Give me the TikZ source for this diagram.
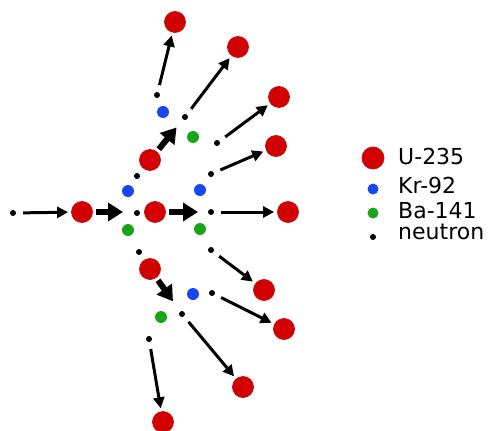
\documentclass[tikz,border=0pt]{standalone}
\usepackage{fontspec}
\setmainfont{DejaVu Sans}
\usetikzlibrary{arrows.meta}
\definecolor{ured}{RGB}{210,0,0}
\definecolor{uredline}{RGB}{190,20,20}
\definecolor{krblue}{RGB}{25,70,245}
\definecolor{bagreen}{RGB}{25,165,25}
\tikzset{
  uranium/.style={circle,fill=ured,draw=uredline,line width=0.8pt,minimum size=21pt,inner sep=0pt},
  krypton/.style={circle,fill=krblue,minimum size=12pt,inner sep=0pt},
  barium/.style={circle,fill=bagreen,minimum size=12pt,inner sep=0pt},
  neutron/.style={circle,fill=black,minimum size=6pt,inner sep=0pt},
  flight/.style={line width=3pt,-{Triangle[length=11pt,width=11pt]},shorten <=7pt,shorten >=3pt},
  hit/.style={line width=6pt,-{Triangle[length=15pt,width=18pt]},shorten <=3pt,shorten >=7pt},
  legendtext/.style={anchor=base west,inner sep=0pt,font=\fontsize{22pt}{26pt}\selectfont}
}
\begin{document}
\begin{tikzpicture}[x=1pt,y=-1pt]
\useasboundingbox (0,0) rectangle (490,431);

% incoming neutron and first nucleus
\node[neutron]  (n0) at (13,213) {};
\node[uranium]  (u0) at (82,212) {};

% first fission
\coordinate (f1) at (130,212);
\node[krypton] (k1) at (128,191) {};
\node[barium]  (b1) at (128,230) {};
\node[neutron] (n1a) at (137,176) {};
\node[neutron] (n1b) at (137,213) {};
\node[neutron] (n1c) at (139,252) {};

% second generation nuclei
\node[uranium] (u1a) at (150,160) {};
\node[uranium] (u1b) at (155,212) {};
\node[uranium] (u1c) at (150,269) {};

% upper fission
\coordinate (f2) at (181,122);
\node[krypton] (k2) at (163,112) {};
\node[barium]  (b2) at (193,137) {};
\node[neutron] (n2a) at (157,95) {};
\node[neutron] (n2b) at (185,117) {};
\node[neutron] (n2c) at (217,143) {};

% middle fission
\coordinate (f3) at (205,212);
\node[krypton] (k3) at (200,190) {};
\node[barium]  (b3) at (200,229) {};
\node[neutron] (n3a) at (211,174) {};
\node[neutron] (n3b) at (211,212) {};
\node[neutron] (n3c) at (211,250) {};

% lower fission
\coordinate (f4) at (177,307);
\node[krypton] (k4) at (193,294) {};
\node[barium]  (b4) at (161,317) {};
\node[neutron] (n4a) at (212,293) {};
\node[neutron] (n4b) at (182,314) {};
\node[neutron] (n4c) at (149,339) {};

% third generation nuclei
\node[uranium] (t1) at (175,22) {};
\node[uranium] (t2) at (238,47) {};
\node[uranium] (t3) at (279,97) {};
\node[uranium] (t4) at (276,146) {};
\node[uranium] (t5) at (288,212) {};
\node[uranium] (t6) at (264,290) {};
\node[uranium] (t7) at (284,329) {};
\node[uranium] (t8) at (243,387) {};
\node[uranium] (t9) at (163,422) {};

% neutron flights
\draw[flight] (n0) -- (u0);
\draw[flight] (n2a) -- (t1);
\draw[flight] (n2b) -- (t2);
\draw[flight] (n2c) -- (t3);
\draw[flight] (n3a) -- (t4);
\draw[flight] (n3b) -- (t5);
\draw[flight] (n3c) -- (t6);
\draw[flight] (n4a) -- (t7);
\draw[flight] (n4b) -- (t8);
\draw[flight] (n4c) -- (t9);

% nuclei splitting
\draw[hit] (u0) -- (f1);
\draw[hit] (u1a) -- (f2);
\draw[hit] (u1b) -- (f3);
\draw[hit] (u1c) -- (f4);

% legend
\node[uranium,minimum size=22pt] (lu) at (373,158) {};
\node[krypton,minimum size=11pt] (lk) at (373,189) {};
\node[barium,minimum size=11pt]  (lb) at (373,213) {};
\node[neutron] (ln) at (373,237) {};
\node[legendtext] (tu) at (398,164) {U-235};
\node[legendtext] (tk) at (398,193) {Kr-92};
\node[legendtext] (tb) at (398,218) {Ba-141};
\node[legendtext] (tn) at (398,239) {neutron};
\end{tikzpicture}
\end{document}
